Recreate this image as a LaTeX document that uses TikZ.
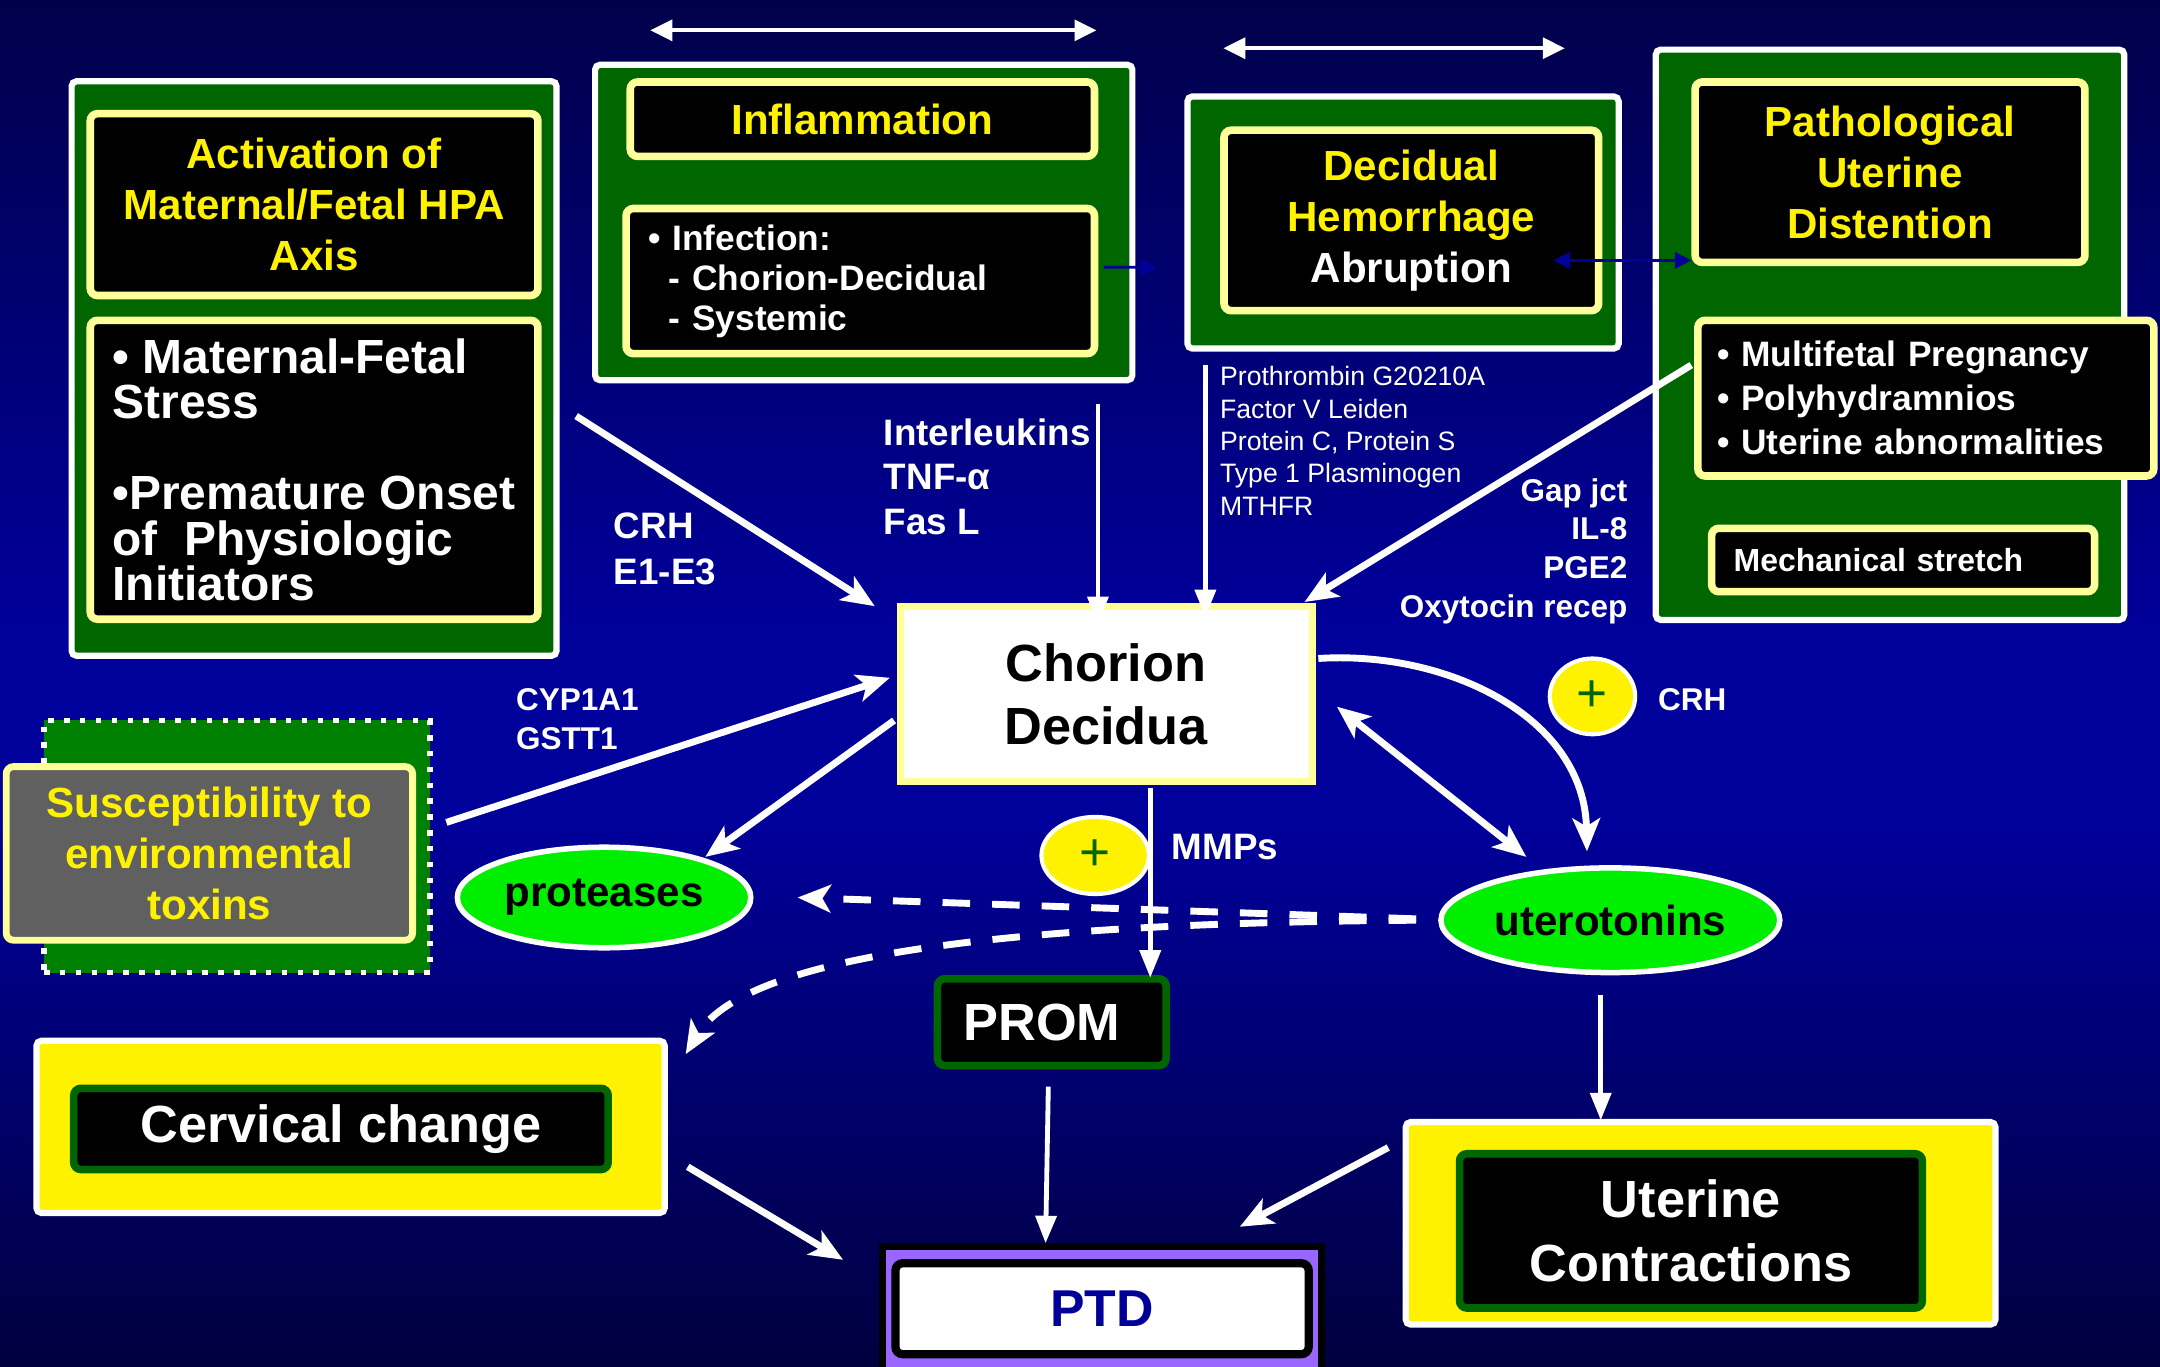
\documentclass[tikz,border=0pt]{standalone}
\usepackage{fontspec}
\setmainfont{Liberation Sans}
\usetikzlibrary{arrows.meta,positioning,shapes.geometric}
\definecolor{bgtop}{HTML}{00004A}
\definecolor{bgmid}{HTML}{00009A}
\definecolor{bgbot}{HTML}{00003E}
\definecolor{dkgreen}{HTML}{006600}
\definecolor{midgreen}{HTML}{008000}
\definecolor{paleyellow}{HTML}{FFFF99}
\definecolor{lime}{HTML}{00EE00}
\definecolor{slate}{HTML}{606060}
\definecolor{ptdviolet}{HTML}{9966FF}
\definecolor{ptdblue}{HTML}{000099}
\tikzset{
  panel/.style={draw=white,fill=dkgreen,line width=0.045cm,rounded corners=1pt,inner sep=0pt},
  ybox/.style={draw=paleyellow,fill=black,line width=0.055cm,rounded corners=1.5pt},
  gbox/.style={draw=dkgreen,fill=black,line width=0.055cm,rounded corners=1.5pt},
  head/.style={font=\bfseries\fontsize{8.7}{10.5}\selectfont,text=yellow,align=center},
  big/.style={font=\bfseries\fontsize{10.8}{13.1}\selectfont,text=white,align=center},
  oval/.style={ellipse,draw=white,fill=lime,line width=0.04cm,inner sep=0pt,font=\bfseries\fontsize{8.7}{10.5}\selectfont},
  plusdot/.style={ellipse,draw=white,fill=yellow,line width=0.03cm,inner sep=0pt,text=dkgreen,font=\fontsize{11}{11}\selectfont},
  lab/.style={font=\bfseries\fontsize{7.6}{9.2}\selectfont,text=white,align=left,inner sep=0pt},
  smalllab/.style={font=\bfseries\fontsize{6.5}{8}\selectfont,text=white,align=left,inner sep=0pt},
  genes/.style={font=\fontsize{5.5}{6.7}\selectfont,text=white,align=left,inner sep=0pt},
  arr/.style={-{Stealth[length=0.24cm,width=0.2cm,inset=0.06cm]},draw=white,line width=0.05cm},
  arrboth/.style={{Stealth[length=0.24cm,width=0.2cm,inset=0.06cm]}-{Stealth[length=0.24cm,width=0.2cm,inset=0.06cm]},draw=white,line width=0.05cm},
  arrthin/.style={-{Triangle[length=0.2cm,width=0.15cm]},draw=white,line width=0.035cm},
  dasharr/.style={-{Stealth[length=0.24cm,width=0.2cm,inset=0.06cm]},draw=white,line width=0.05cm,dash pattern=on 0.2cm off 0.16cm},
  span/.style={{Triangle[length=0.16cm,width=0.15cm]}-{Triangle[length=0.16cm,width=0.15cm]},draw=white,line width=0.03cm},
  navyarr/.style={-{Triangle[length=0.12cm,width=0.12cm]},draw=ptdblue,line width=0.02cm},
  navyboth/.style={{Triangle[length=0.12cm,width=0.12cm]}-{Triangle[length=0.12cm,width=0.12cm]},draw=ptdblue,line width=0.02cm}
}
\begin{document}
\begin{tikzpicture}[x=1cm,y=-1cm]
\path[use as bounding box] (0,0) rectangle (15.68,9.92);
\shade[top color=bgtop,bottom color=bgmid] (0,0) rectangle (15.68,4.52);
\fill[bgmid] (0,4.5) rectangle (15.68,6.02);
\shade[top color=bgmid,bottom color=bgbot] (0,6.0) rectangle (15.68,9.92);
% spans over the top panels
\coordinate (spanAl) at (4.72,0.22); \coordinate (spanAr) at (7.96,0.22);
\coordinate (spanBl) at (8.88,0.35); \coordinate (spanBr) at (11.36,0.35);
\draw[span] (spanAl) -- (spanAr);
\draw[span] (spanBl) -- (spanBr);

% HPA axis
\node[panel,minimum width=3.52cm,minimum height=4.17cm] (hpa) at (2.28,2.675) {};
\node[ybox,head,minimum width=3.25cm,minimum height=1.32cm] (hpatop) at (2.28,1.485) {Activation of\\Maternal/Fetal HPA\\Axis};
\node[ybox,minimum width=3.25cm,minimum height=2.17cm,align=left,text=white,font=\bfseries\fontsize{9.9}{9.4}\selectfont] (hpabot) at (2.28,3.41) {• Maternal-Fetal\\Stress\\[9.4pt]•Premature Onset\\of\ \ Physiologic\\Initiators};

% inflammation
\node[panel,minimum width=3.90cm,minimum height=2.29cm] (infl) at (6.27,1.615) {};
\node[ybox,head,minimum width=3.37cm,minimum height=0.54cm] (infltop) at (6.26,0.865) {Inflammation};
\node[ybox,minimum width=3.40cm,minimum height=1.03cm,text width=3.08cm,inner xsep=0.16cm,align=left,text=white,font=\bfseries\fontsize{7.3}{8.25}\selectfont] (inflbot) at (6.245,2.04) {• Infection:\\\hspace*{0.15cm}- Chorion-Decidual\\\hspace*{0.15cm}- Systemic};

% decidual hemorrhage
\node[panel,minimum width=3.13cm,minimum height=1.83cm] (decid) at (10.185,1.615) {};
\node[ybox,head,minimum width=2.72cm,minimum height=1.31cm] (decidin) at (10.245,1.60) {Decidual\\Hemorrhage\\\textcolor{white}{Abruption}};

% uterine distention
\node[panel,minimum width=3.40cm,minimum height=4.14cm] (patho) at (13.72,2.43) {};
\node[ybox,head,minimum width=2.83cm,minimum height=1.31cm] (pathotop) at (13.72,1.25) {Pathological\\Uterine\\Distention};
\node[ybox,minimum width=3.31cm,minimum height=1.13cm,text width=3.03cm,inner xsep=0.14cm,align=left,text=white,font=\bfseries\fontsize{7.3}{9.1}\selectfont] (pathomid) at (13.98,2.89) {• Multifetal Pregnancy\\• Polyhydramnios\\• Uterine abnormalities};
\node[ybox,minimum width=2.78cm,minimum height=0.46cm,text width=2.46cm,inner xsep=0.16cm,align=left,text=white,font=\bfseries\fontsize{6.6}{8}\selectfont] (pathobot) at (13.815,4.065) {Mechanical stretch};

% chorion decidua
\node[draw=paleyellow,fill=white,line width=0.05cm,minimum width=2.99cm,minimum height=1.27cm,font=\bfseries\fontsize{10.8}{13.1}\selectfont,align=center] (chorion) at (8.03,5.04) {Chorion\\Decidua};

% environmental toxins
\node[draw=white,fill=midgreen,line width=0.04cm,dash pattern=on 0.04cm off 0.075cm,minimum width=2.80cm,minimum height=1.83cm] (suscfr) at (1.72,6.145) {};
\node[draw=paleyellow,fill=slate,line width=0.05cm,rounded corners=1.5pt,head,minimum width=2.95cm,minimum height=1.26cm] (susc) at (1.52,6.195) {Susceptibility to\\environmental\\toxins};

% mediators
\node[oval,minimum width=2.13cm,minimum height=0.73cm] (prot) at (4.385,6.515) {proteases};
\node[oval,minimum width=2.46cm,minimum height=0.76cm] (utero) at (11.69,6.68) {uterotonins};
\node[plusdot,minimum width=0.62cm,minimum height=0.55cm] (crhplus) at (11.56,5.055) {+};
\node[plusdot,minimum width=0.78cm,minimum height=0.56cm] (mmpplus) at (7.95,6.21) {+};

% outcomes
\node[gbox,big,minimum width=1.66cm,minimum height=0.63cm,text width=1.28cm,inner xsep=0.19cm,align=left] (prom) at (7.635,7.42) {PROM};
\node[draw=white,fill=yellow,line width=0.045cm,rounded corners=1pt,minimum width=4.56cm,minimum height=1.25cm] (cervfr) at (2.545,8.18) {};
\node[gbox,big,minimum width=3.88cm,minimum height=0.56cm] (cerv) at (2.475,8.195) {Cervical change};
\node[draw=white,fill=yellow,line width=0.045cm,rounded corners=1pt,minimum width=4.28cm,minimum height=1.47cm] (ucfr) at (12.345,8.88) {};
\node[gbox,big,minimum width=3.36cm,minimum height=1.12cm] (uc) at (12.275,8.935) {Uterine\\Contractions};
\node[draw=black,fill=ptdviolet,line width=0.05cm,minimum width=3.19cm,minimum height=1.0cm] (ptdfr) at (8.00,9.55) {};
\node[draw=black,fill=white,line width=0.06cm,rounded corners=1.5pt,minimum width=3.0cm,minimum height=0.66cm,font=\bfseries\fontsize{10.7}{12}\selectfont,text=ptdblue] (ptd) at (8.00,9.50) {PTD};

% labels
\node[genes,anchor=west] (genelist) at (8.85,3.20) {Prothrombin G20210A\\Factor V Leiden\\Protein C, Protein S\\Type 1 Plasminogen\\MTHFR};
\node[lab,anchor=west] (cytok) at (6.41,3.46) {Interleukins\\TNF-α\\Fas L};
\node[lab,anchor=west,font=\bfseries\fontsize{7.6}{9.4}\selectfont] (hpalab) at (4.45,3.985) {CRH\\E1-E3};
\node[smalllab,anchor=east,align=right] (stretchlab) at (11.82,4.00) {Gap jct\\IL-8\\PGE2\\Oxytocin recep};
\node[smalllab,anchor=west] (toxlab) at (3.74,5.22) {CYP1A1\\GSTT1};
\node[smalllab,anchor=west] (crhlab) at (12.03,5.08) {CRH};
\node[lab,anchor=west] (mmplab) at (8.50,6.15) {MMPs};

% connectors
\draw[navyarr] ([shift={(0.04,-0.10)}]inflbot.east) -- ([shift={(-0.20,0.325)}]decid.west);
\draw[navyboth] ([shift={(-0.355,0.29)}]decidin.east) -- ([shift={(0,0.64)}]pathotop.west);
\draw[arr] ([shift={(0.12,0.345)}]hpa.east) -- ([shift={(-0.16,0.02)}]chorion.north west);
\draw[arrthin] ([shift={(1.70,0.15)}]infl.south) -- ([shift={(1.70,0.15)}]infl.south |- chorion.north);
\draw[arrthin] ([shift={(-1.435,0.10)}]decid.south) -- ([shift={(-1.435,0.10)}]decid.south |- chorion.north);
\draw[arr] ([shift={(-0.02,-0.24)}]pathomid.west) -- ([shift={(-0.08,-0.01)}]chorion.north east);
\draw[arr] ([shift={(0.10,-0.175)}]suscfr.east) -- ([shift={(-0.05,-0.12)}]chorion.west);
\draw[arr] ([shift={(-0.02,0.19)}]chorion.west) -- ([shift={(0.735,0.09)}]prot.north);
\draw[arrboth] ([shift={(0.155,0.09)}]chorion.east) -- ([shift={(-0.61,-0.06)}]utero.north);
\draw[arr] ([shift={(0.02,-0.26)}]chorion.east) .. controls (10.5,4.72) and (11.5,5.2) .. ([shift={(-0.17,-0.10)}]utero.north);
\draw[arrthin] ([shift={(0.32,0.02)}]chorion.south) -- ([shift={(0.32,0.02)}]chorion.south |- prom.north);
\draw[dasharr] ([shift={(-0.16,-0.01)}]utero.west) -- ([shift={(0.32,0)}]prot.east);
\draw[dasharr] ([shift={(-0.16,0)}]utero.west) .. controls (7.2,6.70) and (5.4,6.95) .. ([shift={(0.13,0.12)}]cervfr.north east);
\draw[arrthin,shorten >=0.13cm] ([shift={(-0.07,0.14)}]utero.south) -- ([shift={(-0.07,0.14)}]utero.south |- ucfr.north);
\draw[arrthin] ([shift={(-0.025,0.125)}]prom.south) -- ([shift={(-0.41,0)}]ptdfr.north);
\draw[arr] ([shift={(0.145,0.29)}]cervfr.east) -- ([shift={(-0.26,0.12)}]ptdfr.north west);
\draw[arr] ([shift={(-0.105,-0.55)}]ucfr.west) -- ([shift={(1.0,-0.12)}]ptdfr.north);
\end{tikzpicture}
\end{document}
